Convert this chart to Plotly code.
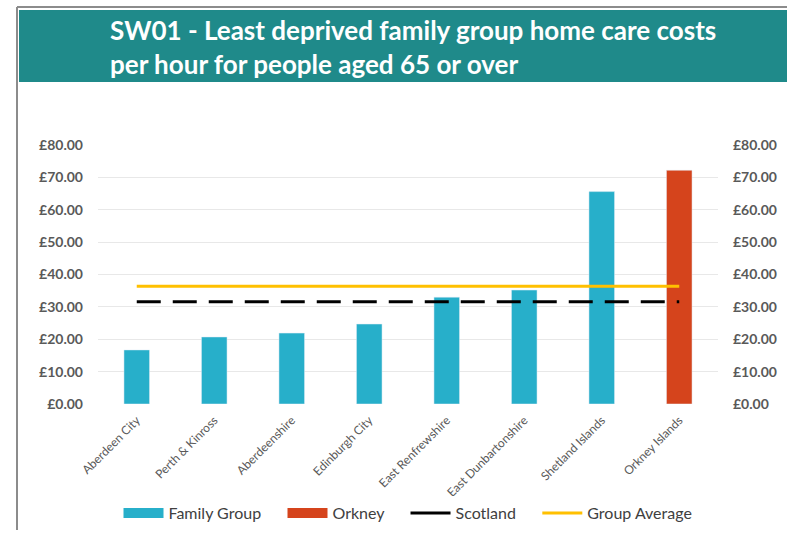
import plotly.graph_objects as go

# data
councils = ["Aberdeen City", "Perth & Kinross", "Aberdeenshire", "Edinburgh City",
            "East Renfrewshire", "East Dunbartonshire", "Shetland Islands", "Orkney Islands"]
family_councils = councils[:7]
family_costs = [16.7, 20.7, 21.9, 24.7, 33.0, 35.2, 65.6]
orkney_councils = ["Orkney Islands"]
orkney_costs = [72.2]
scotland_cost = 31.6
group_average = 36.4
y_ticks = [0, 10, 20, 30, 40, 50, 60, 70, 80]
y_tick_labels = ["£0.00", "£10.00", "£20.00", "£30.00", "£40.00", "£50.00", "£60.00", "£70.00", "£80.00"]

W, H = 787, 534
L, R, T, B = 98, 69, 145, 130
pw, ph = W - L - R, H - T - B

def px_x(x):
    return (x - L) / pw

def px_y(y):
    return (H - B - y) / ph

font = "Lato, Open Sans, sans-serif"
grey = "#595959"
teal = "#27afca"
red = "#d5441c"
gap = "&nbsp;" * 4

fig = go.Figure()

fig.add_trace(go.Bar(x=family_councils, y=family_costs, name="Family Group",
                     marker=dict(color=teal), width=0.33, showlegend=False,
                     legendgroup="fam"))
fig.add_trace(go.Bar(x=orkney_councils, y=orkney_costs, name="Orkney",
                     marker=dict(color=red), width=0.33, showlegend=False,
                     legendgroup="ork"))
fig.add_trace(go.Scatter(x=councils, y=[scotland_cost] * len(councils), name="Scotland",
                         mode="lines", yaxis="y2", showlegend=False, legendgroup="sco",
                         line=dict(color="black", width=3, dash="24px,12px")))
fig.add_trace(go.Scatter(x=councils, y=[group_average] * len(councils), name="Group Average",
                         mode="lines", yaxis="y2", showlegend=False, legendgroup="avg",
                         line=dict(color="#ffc000", width=3)))

# legend entries drawn like the wide Excel swatches
legend_items = [("Family Group" + gap, teal, 10, "fam"),
                ("Orkney" + gap, red, 10, "ork"),
                ("Scotland" + gap, "black", 3, "sco"),
                ("Group Average", "#ffc000", 3, "avg")]
for name, color, lw, grp in legend_items:
    fig.add_trace(go.Scatter(x=[None], y=[None], name=name, mode="lines", legendgroup=grp,
                             line=dict(color=color, width=lw)))

# frame and title band
fig.add_shape(type="line", xref="paper", yref="paper",
              x0=px_x(17), x1=px_x(17), y0=px_y(7), y1=px_y(530),
              line=dict(color="#8c8c8c", width=2))
fig.add_shape(type="line", xref="paper", yref="paper",
              x0=px_x(17), x1=px_x(790), y0=px_y(7), y1=px_y(7),
              line=dict(color="#8c8c8c", width=2))
fig.add_shape(type="rect", xref="paper", yref="paper",
              x0=px_x(19), x1=px_x(790), y0=px_y(82), y1=px_y(10),
              fillcolor="#1f8a8a", line=dict(width=0), layer="below")

fig.add_annotation(xref="paper", yref="paper", x=px_x(108), y=px_y(47),
                   xanchor="left", yanchor="middle", align="left", showarrow=False,
                   text="SW01 - Least deprived family group home care costs<br>per hour for people aged 65 or over",
                   font=dict(family=font, size=26, color="white", weight="bold"))

fig.update_layout(
    width=W, height=H,
    margin=dict(l=L, r=R, t=T, b=B, pad=0, autoexpand=False),
    paper_bgcolor="white", plot_bgcolor="white",
    barmode="overlay",
    showlegend=True,
    legend=dict(orientation="h", x=0.5, xanchor="center", y=px_y(513), yanchor="middle",
                font=dict(family=font, size=16, color="#404040"), itemwidth=40,
                traceorder="normal"),
    xaxis=dict(type="category", categoryorder="array", categoryarray=councils,
               tickangle=-45, tickfont=dict(family=font, size=12, color=grey),
               showgrid=False, showline=False, ticks="", ticklabelstandoff=6),
    yaxis=dict(range=[0, 80], tickvals=y_ticks, ticktext=y_tick_labels,
               tickfont=dict(family=font, size=14, color=grey, weight="bold"),
               gridcolor="#e8e8e8", gridwidth=1, zeroline=False, showline=False,
               ticklabelstandoff=14),
    yaxis2=dict(range=[0, 80], tickvals=y_ticks, ticktext=y_tick_labels,
                overlaying="y", side="right", showgrid=False, zeroline=False,
                tickfont=dict(family=font, size=14, color=grey, weight="bold"),
                ticklabelstandoff=14),
)

fig.write_html("out.html", config={"displayModeBar": False},
               post_script="document.body.style.margin='0';")
